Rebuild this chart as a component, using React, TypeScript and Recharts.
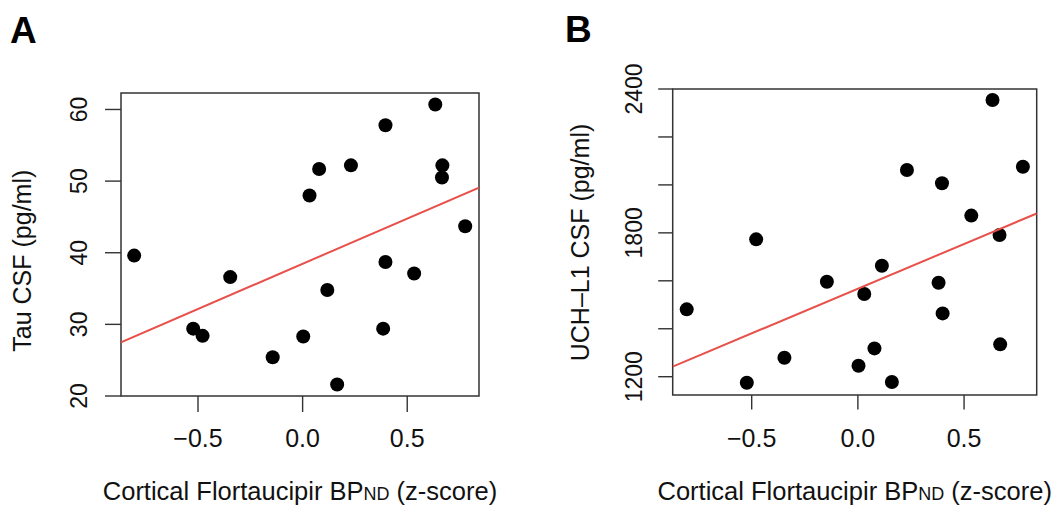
import { ScatterChart, Scatter, XAxis, YAxis, ReferenceArea } from "recharts";

// panel A: tau
const tauX = [-0.805, -0.523, -0.478, -0.346, -0.143, 0.003, 0.033, 0.079, 0.118, 0.165, 0.231, 0.385, 0.396, 0.396, 0.533, 0.634, 0.668, 0.666, 0.777];
const tauY = [39.6, 29.4, 28.4, 36.6, 25.4, 28.3, 48.0, 51.7, 34.8, 21.6, 52.2, 29.4, 57.8, 38.7, 37.1, 60.7, 52.2, 50.5, 43.7];
const tauFitX = [-0.868, 0.843];
const tauFitY = [27.5, 49.1];
const tauTicks = [20, 30, 40, 50, 60];

// panel B: UCH-L1
const uchX = [-0.806, -0.523, -0.479, -0.346, -0.146, 0.003, 0.03, 0.078, 0.113, 0.16, 0.231, 0.38, 0.396, 0.399, 0.534, 0.634, 0.667, 0.67, 0.777];
const uchY = [1481, 1175, 1773, 1279, 1596, 1246, 1545, 1318, 1663, 1178, 2062, 1592, 2007, 1464, 1872, 2354, 1791, 1335, 2076];
const uchFitX = [-0.872, 0.842];
const uchFitY = [1242, 1881];
const uchTicks = [1200, 1400, 1600, 1800, 2000, 2200, 2400];
const uchLabels = [1200, 1800, 2400];

const xTicks = [-0.5, 0, 0.5];

const FONT = '"Liberation Sans", Arial, Helvetica, sans-serif';
const INK = "#333";
const RED = "#e8504a";

const fmtX = (v: number) =>
  v === 0 ? "0.0" : v < 0 ? "\u2212" + Math.abs(v).toFixed(1) : v.toFixed(1);

const dot = (p: any) => <circle cx={p.cx} cy={p.cy} r={7} fill="#000" />;
const noDot = () => <g />;

interface PanelProps {
  letter: string;
  left: number;
  width: number;
  xs: number[];
  ys: number[];
  fitX: number[];
  fitY: number[];
  xDomain: [number, number];
  yDomain: [number, number];
  yTicks: number[];
  yLabels: number[];
  yTitle: string;
  plotLeft: number;
  plotRight: number;
  plotTop: number;
  plotBottom: number;
  tickLen: number;
  yLabelX: number;
  yTitleX: number;
  yTitleY: number;
  letterX: number;
  letterY: number;
}

function Panel(p: PanelProps) {
  const data = p.xs.map((x, i) => ({ x, y: p.ys[i] }));
  const fit = p.fitX.map((x, i) => ({ x, y: p.fitY[i] }));
  const xCenter = (p.plotLeft + p.plotRight) / 2;

  const XTick = (t: any) => (
    <text x={t.x} y={446.7} textAnchor="middle" fontSize={25} fontFamily={FONT} fill="#111">
      {fmtX(t.payload.value)}
    </text>
  );
  const YTick = (t: any) =>
    p.yLabels.includes(t.payload.value) ? (
      <text
        transform={`translate(${p.yLabelX},${t.y}) rotate(-90)`}
        textAnchor="middle"
        fontSize={23}
        fontFamily={FONT}
        fill="#111"
      >
        {t.payload.value}
      </text>
    ) : (
      <g />
    );

  return (
    <div style={{ position: "absolute", left: p.left, top: 0, width: p.width, height: 508 }}>
      <ScatterChart
        width={p.width}
        height={508}
        margin={{ top: p.plotTop, right: p.width - p.plotRight, bottom: 0, left: 0 }}
      >
        <XAxis
          type="number"
          dataKey="x"
          domain={p.xDomain}
          ticks={xTicks}
          allowDataOverflow
          height={508 - p.plotBottom}
          axisLine={false}
          tickSize={p.tickLen}
          tickLine={{ stroke: INK, strokeWidth: 1.4 }}
          tick={XTick}
        />
        <YAxis
          type="number"
          dataKey="y"
          domain={p.yDomain}
          ticks={p.yTicks}
          allowDataOverflow
          width={p.plotLeft}
          axisLine={false}
          tickSize={p.tickLen}
          tickLine={{ stroke: INK, strokeWidth: 1.4 }}
          tick={YTick}
        />
        <ReferenceArea
          x1={p.xDomain[0]}
          x2={p.xDomain[1]}
          y1={p.yDomain[0]}
          y2={p.yDomain[1]}
          fill="none"
          fillOpacity={0}
          stroke={INK}
          strokeWidth={1.5}
          ifOverflow="visible"
        />
        <Scatter data={data} shape={dot} isAnimationActive={false} />
        <Scatter
          data={fit}
          shape={noDot}
          line={{ stroke: RED, strokeWidth: 2 }}
          isAnimationActive={false}
        />
      </ScatterChart>
      <svg
        width={p.width}
        height={508}
        style={{ position: "absolute", left: 0, top: 0, pointerEvents: "none" }}
      >
        <text x={p.letterX} y={p.letterY} fontSize={37} fontWeight="bold" fontFamily={FONT} fill="#000">
          {p.letter}
        </text>
        <text
          transform={`translate(${p.yTitleX},${p.yTitleY}) rotate(-90)`}
          textAnchor="middle"
          fontSize={25}
          fontFamily={FONT}
          fill="#111"
        >
          {p.yTitle}
        </text>
        <text x={xCenter} y={500} textAnchor="middle" fontSize={25.5} fontFamily={FONT} fill="#111">
          Cortical Flortaucipir BP<tspan fontSize={18}>ND</tspan> (z-score)
        </text>
      </svg>
    </div>
  );
}

export default function App() {
  return (
    <div
      style={{
        position: "absolute",
        left: 0,
        top: 0,
        width: 1059,
        height: 508,
        background: "#fff",
        overflow: "hidden",
      }}
    >
      <Panel
        letter="A"
        left={0}
        width={530}
        xs={tauX}
        ys={tauY}
        fitX={tauFitX}
        fitY={tauFitY}
        xDomain={[-0.868, 0.843]}
        yDomain={[20, 62.3]}
        yTicks={tauTicks}
        yLabels={tauTicks}
        yTitle="Tau CSF (pg/ml)"
        plotLeft={121}
        plotRight={479}
        plotTop={93}
        plotBottom={396}
        tickLen={16}
        yLabelX={86.5}
        yTitleX={30.5}
        yTitleY={260.7}
        letterX={10}
        letterY={42.7}
      />
      <Panel
        letter="B"
        left={530}
        width={529}
        xs={uchX}
        ys={uchY}
        fitX={uchFitX}
        fitY={uchFitY}
        xDomain={[-0.872, 0.842]}
        yDomain={[1123.7, 2400]}
        yTicks={uchTicks}
        yLabels={uchLabels}
        yTitle="UCH–L1 CSF (pg/ml)"
        plotLeft={142.7}
        plotRight={506.7}
        plotTop={89}
        plotBottom={395}
        tickLen={14.5}
        yLabelX={111.5}
        yTitleX={58.5}
        yTitleY={242.5}
        letterX={35}
        letterY={41.7}
      />
    </div>
  );
}
